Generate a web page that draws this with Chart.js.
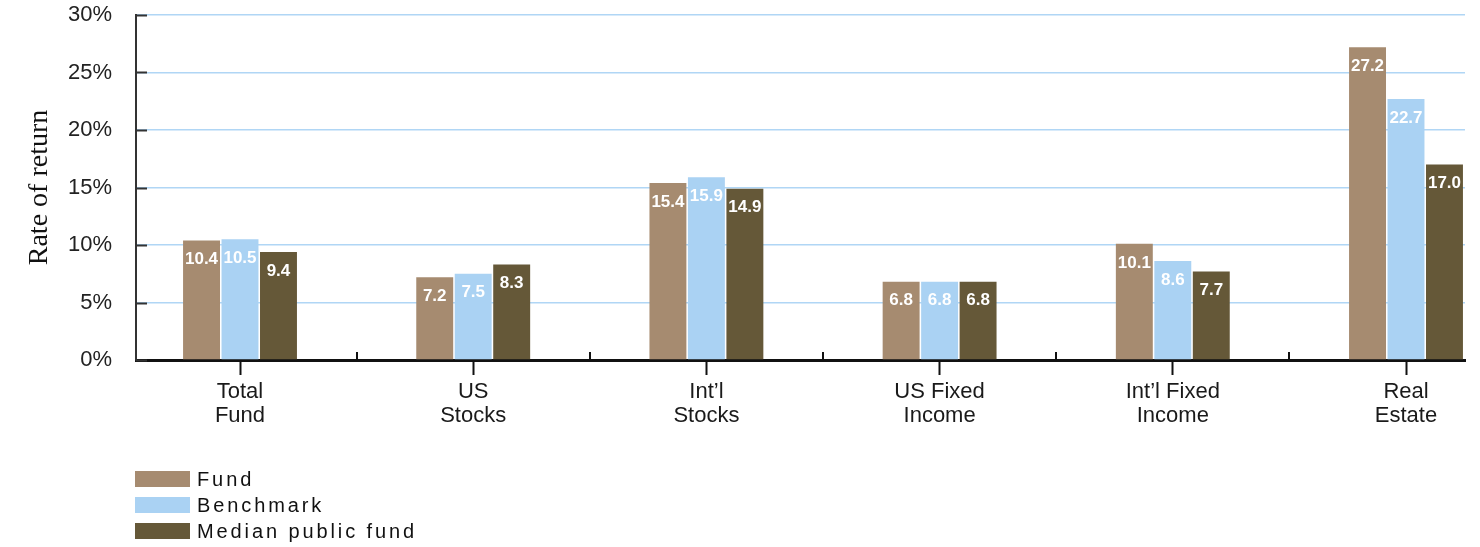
<!DOCTYPE html>
<html>
<head>
<meta charset="utf-8">
<script src="https://cdn.jsdelivr.net/npm/chart.js@4/dist/chart.umd.min.js"></script>
<style>
  html, body { margin: 0; padding: 0; background: #fff; }
  #wrap { position: relative; width: 1480px; height: 547px; }
  canvas { display: block; }
  #legend {
    position: absolute; left: 135px; top: 466px;
    font-family: "Liberation Sans", Arial, Helvetica, sans-serif;
    font-size: 20px; letter-spacing: 2.9px; color: #111;
  }
  .item { display: flex; align-items: center; height: 26px; }
  .sw { width: 55px; height: 16px; margin-right: 7px; }
</style>
</head>
<body>
<div id="wrap">
  <canvas id="chart" width="1480" height="547"></canvas>
  <div id="legend"></div>
</div>
<script>
// Asset classes (multi-line axis labels)
const categories = [
  ["Total", "Fund"],
  ["US", "Stocks"],
  ["Int\u2019l", "Stocks"],
  ["US Fixed", "Income"],
  ["Int\u2019l Fixed", "Income"],
  ["Real", "Estate"]
];

// Rates of return, percent
const fundReturns      = [10.4, 7.2, 15.4, 6.8, 10.1, 27.2];
const benchmarkReturns = [10.5, 7.5, 15.9, 6.8, 8.6, 22.7];
const medianReturns    = [9.4, 8.3, 14.9, 6.8, 7.7, 17.0];

const seriesNames  = ["Fund", "Benchmark", "Median public fund"];
const seriesColors = ["#a68b70", "#aad2f3", "#655838"];

const yTicks = [0, 5, 10, 15, 20, 25, 30];

const SANS = '"Liberation Sans", Arial, Helvetica, sans-serif';

function toPoints(values) {
  return values.map((v, i) => ({ x: i, y: v }));
}

// White value labels just inside the top of each bar
const barValueLabels = {
  id: 'barValueLabels',
  afterDatasetsDraw(chart) {
    const ctx = chart.ctx;
    ctx.save();
    ctx.font = 'bold 17px ' + SANS;
    ctx.fillStyle = '#ffffff';
    ctx.textAlign = 'center';
    ctx.textBaseline = 'middle';
    chart.data.datasets.forEach((ds, di) => {
      const meta = chart.getDatasetMeta(di);
      meta.data.forEach((bar, i) => {
        ctx.fillText(ds.data[i].y.toFixed(1), bar.x, bar.y + 19);
      });
    });
    ctx.restore();
  }
};

// Short inner ticks on the value axis and separators between groups
const axisMarks = {
  id: 'axisMarks',
  afterDatasetsDraw(chart) {
    const ctx = chart.ctx;
    const xs = chart.scales.x, ys = chart.scales.y;
    const area = chart.chartArea;
    ctx.save();
    ctx.strokeStyle = '#333';
    ctx.lineWidth = 2;
    ys.ticks.forEach(t => {
      const y = Math.round(ys.getPixelForValue(t.value)) + 0.5;
      ctx.beginPath();
      ctx.moveTo(area.left, y);
      ctx.lineTo(area.left + 11, y);
      ctx.stroke();
    });
    ctx.strokeStyle = '#111';
    for (let i = 0; i < categories.length - 1; i++) {
      const x = Math.round(xs.getPixelForValue(i + 0.5));
      ctx.beginPath();
      ctx.moveTo(x, area.bottom);
      ctx.lineTo(x, area.bottom - 8);
      ctx.stroke();
    }
    ctx.restore();
  }
};

const datasets = [fundReturns, benchmarkReturns, medianReturns].map((vals, k) => ({
  label: seriesNames[k],
  data: toPoints(vals),
  backgroundColor: seriesColors[k],
  borderWidth: 0,
  categoryPercentage: 0.495,
  barPercentage: 0.96
}));

new Chart(document.getElementById('chart'), {
  type: 'bar',
  data: { datasets },
  plugins: [axisMarks, barValueLabels],
  options: {
    responsive: false,
    animation: false,
    devicePixelRatio: 1,
    layout: { padding: { top: 15, right: 15, left: 0, bottom: 0 } },
    plugins: {
      legend: { display: false },
      tooltip: { enabled: false }
    },
    scales: {
      x: {
        type: 'linear',
        offset: false,
        min: -0.446,
        max: 5.253,
        afterBuildTicks(scale) {
          scale.ticks = categories.map((c, i) => ({ value: i }));
        },
        afterFit(scale) {
          scale.height = 187;
          scale.paddingLeft = 0;
          scale.paddingRight = 0;
        },
        ticks: {
          autoSkip: false,
          maxRotation: 0,
          padding: 5,
          color: '#1a1a1a',
          font: { family: SANS, size: 22, lineHeight: 1.1 },
          callback: (v) => categories[v] || ''
        },
        grid: {
          offset: false,
          drawOnChartArea: false,
          drawTicks: true,
          tickLength: 15,
          tickWidth: 2,
          tickColor: '#111'
        },
        border: { display: true, color: '#111', width: 3 }
      },
      y: {
        min: 0,
        max: 30,
        afterBuildTicks(scale) {
          scale.ticks = yTicks.map(v => ({ value: v }));
        },
        afterFit(scale) {
          scale.width = 136;
          scale.paddingTop = 0;
          scale.paddingBottom = 0;
        },
        ticks: {
          padding: 24,
          color: '#222',
          font: { family: SANS, size: 22 },
          callback: (v) => v + '%'
        },
        grid: {
          color: '#b0d6f5',
          lineWidth: 1.5,
          drawTicks: false
        },
        border: { display: true, color: '#333', width: 2 },
        title: {
          display: true,
          text: 'Rate of return',
          color: '#111',
          font: { family: '"Liberation Serif", "Times New Roman", serif', size: 28 },
          padding: { top: 23, bottom: 0 }
        }
      }
    }
  }
});

// Vertical legend under the chart
const legend = document.getElementById('legend');
seriesNames.forEach((name, k) => {
  const row = document.createElement('div');
  row.className = 'item';
  const sw = document.createElement('span');
  sw.className = 'sw';
  sw.style.background = seriesColors[k];
  const label = document.createElement('span');
  label.textContent = name;
  row.appendChild(sw);
  row.appendChild(label);
  legend.appendChild(row);
});
</script>
</body>
</html>
